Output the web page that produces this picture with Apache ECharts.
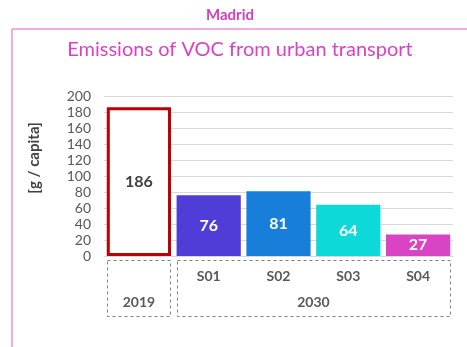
<!DOCTYPE html>
<html>
<head>
<meta charset="utf-8">
<script src="https://cdn.jsdelivr.net/npm/echarts@6/dist/echarts.min.js"></script>
<style>
  html, body { margin: 0; padding: 0; background: #fff; }
  #chart { width: 467px; height: 347px; }
</style>
</head>
<body>
<div id="chart"></div>
<script>
// VOC emissions per capita from urban transport, Madrid
const categories = ['2019', 'S01', 'S02', 'S03', 'S04'];
const values = [186, 76, 81, 64, 27];
const barColors = ['#FFFFFF', '#503CD6', '#177FDA', '#0DD9D9', '#D944C4'];
const yTicks = [0, 200, 20]; // min, max, step
const groups = [
  { label: '2019', from: 0, to: 0 },
  { label: '2030', from: 1, to: 4 }
];

const FONT = 'Lato, "DejaVu Sans", sans-serif';
const chart = echarts.init(document.getElementById('chart'), null, { renderer: 'canvas' });

const seriesData = values.map((v, i) => {
  if (i === 0) {
    return {
      value: v,
      itemStyle: { color: '#FFFFFF', borderColor: '#C00000', borderWidth: 3 },
      label: { color: '#404040' }
    };
  }
  return { value: v, itemStyle: { color: barColors[i] } };
});

chart.setOption({
  animation: false,
  backgroundColor: '#FFFFFF',
  grid: { left: 104, right: 14, top: 96, bottom: 91 },
  xAxis: {
    type: 'category',
    data: categories,
    axisLine: { show: true, lineStyle: { color: '#D9D9D9', width: 1 } },
    axisTick: { show: false },
    axisLabel: {
      margin: 13,
      fontFamily: FONT, fontSize: 14, fontWeight: 'bold', color: '#595959',
      formatter: (v, i) => (i === 0 ? '' : v)
    }
  },
  yAxis: {
    type: 'value',
    min: yTicks[0], max: yTicks[1], interval: yTicks[2],
    axisLine: { show: false },
    axisTick: { show: false },
    axisLabel: { margin: 13, fontFamily: FONT, fontSize: 14, color: '#595959' },
    splitLine: { lineStyle: { color: '#D9D9D9', width: 1 } }
  },
  series: [{
    type: 'bar',
    data: seriesData,
    barCategoryGap: '8%',
    label: {
      show: true,
      position: 'inside',
      fontFamily: FONT, fontSize: 16, fontWeight: 'bold', color: '#FFFFFF'
    }
  }]
});

// Titles, frame, unit label and dashed group boxes below the category axis
function drawDecor() {
  const c0 = chart.convertToPixel({ xAxisIndex: 0 }, 0);
  const c1 = chart.convertToPixel({ xAxisIndex: 0 }, 1);
  const band = c1 - c0;
  const half = band * 0.46;
  const top = chart.convertToPixel({ yAxisIndex: 0 }, 0) + 4;
  const elements = [
    { type: 'line', shape: { x1: 12, y1: 29, x2: 467, y2: 29 }, style: { stroke: '#EA92DB', lineWidth: 1.5 } },
    { type: 'line', shape: { x1: 12, y1: 29, x2: 12, y2: 347 }, style: { stroke: '#EA92DB', lineWidth: 1.5 } },
    {
      type: 'text', x: 230, y: 15,
      style: { text: 'Madrid', align: 'center', verticalAlign: 'middle',
               font: 'bold 15px ' + FONT, fill: '#D63FC0' }
    },
    {
      type: 'text', x: 240, y: 50,
      style: { text: 'Emissions of VOC from urban transport', align: 'center', verticalAlign: 'middle',
               font: '20px ' + FONT, fill: '#DD3FC6' }
    },
    {
      type: 'text', x: 34, y: 158, rotation: Math.PI / 2,
      style: { text: '[g / capita]', align: 'center', verticalAlign: 'middle',
               font: 'bold 15px ' + FONT, fill: '#404040' }
    }
  ];
  groups.forEach(g => {
    const xa = chart.convertToPixel({ xAxisIndex: 0 }, g.from) - half;
    const xb = chart.convertToPixel({ xAxisIndex: 0 }, g.to) + half;
    elements.push({
      type: 'rect',
      shape: { x: Math.round(xa) + 0.5, y: Math.round(top) + 0.5, width: Math.round(xb - xa) - 1, height: 56 },
      style: { fill: null, stroke: '#7F7F7F', lineWidth: 1, lineDash: [3, 3] }
    });
    elements.push({
      type: 'text',
      x: (xa + xb) / 2, y: top + 42,
      style: {
        text: g.label, align: 'center', verticalAlign: 'middle',
        font: 'bold 14px ' + FONT, fill: '#595959'
      }
    });
  });
  chart.setOption({ graphic: elements });
}
drawDecor();
</script>
</body>
</html>
